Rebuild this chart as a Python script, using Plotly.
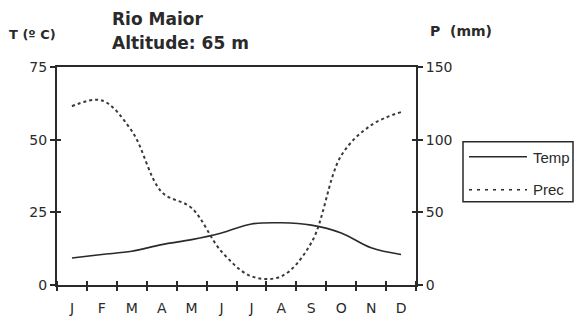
import plotly.graph_objects as go

months = list(range(1, 13))
month_labels = ["J", "F", "M", "A", "M", "J", "J", "A", "S", "O", "N", "D"]
temp = [9.3, 10.5, 11.6, 13.9, 15.6, 17.9, 21.0, 21.4, 20.6, 17.9, 12.8, 10.5]
prec = [123, 127, 106, 64, 53, 23, 6, 6, 29, 89, 110, 119]
t_ticks = [0, 25, 50, 75]
p_ticks = [0, 50, 100, 150]

SANS = "Liberation Sans, Arial, sans-serif"
WIDE = "DejaVu Sans, sans-serif"
INK = "#2a2a2a"

# page body has an 8px margin; lay out in reference pixels then shift
OFF = 8
W, H = 583 - OFF, 319 - OFF
L, T, R, B = 57 - OFF, 67 - OFF, 583 - 416, 319 - 285.5
pw, ph = W - L - R, H - T - B


def px(rx):
    return (rx - OFF - L) / pw


def py(ry):
    return (H - B - (ry - OFF)) / ph


fig = go.Figure()
fig.add_trace(go.Scatter(x=months, y=temp, name="Temp", mode="lines",
                         line=dict(color=INK, width=1.6, shape="spline"), yaxis="y"))
fig.add_trace(go.Scatter(x=months, y=prec, name="Prec", mode="lines",
                         line=dict(color="#3a3a3a", width=2, dash="dot", shape="spline"),
                         yaxis="y2"))

bounds = [m - 0.5 for m in months] + [12.5]
axis_common = dict(showgrid=False, zeroline=False)
fig.update_layout(
    width=W, height=H,
    margin=dict(l=L, r=R, t=T, b=B, autoexpand=False),
    paper_bgcolor="white", plot_bgcolor="white",
    font=dict(family=SANS, color=INK, size=13),
    showlegend=False,
    xaxis=dict(range=[0.5, 12.5], tickvals=months, ticktext=month_labels, ticks="",
               showline=True, linecolor=INK, linewidth=2, mirror=True,
               tickfont=dict(family=WIDE, size=14), ticklabelstandoff=9,
               minor=dict(tickvals=bounds, ticks="outside", ticklen=4, tickcolor=INK,
                          tickwidth=1.5, showgrid=False), **axis_common),
    xaxis2=dict(range=[0.5, 12.5], overlaying="x", anchor="y", side="bottom",
                showticklabels=False, tickvals=[], showline=False,
                minor=dict(tickvals=bounds, ticks="inside", ticklen=4, tickcolor=INK,
                           tickwidth=1.5, showgrid=False), **axis_common),
    yaxis=dict(range=[0, 75], tickvals=t_ticks, ticks="outside", ticklen=5, tickcolor=INK,
               tickwidth=1.5, showline=True, linecolor=INK, linewidth=2,
               tickfont=dict(family=WIDE, size=14), **axis_common),
    yaxis2=dict(range=[0, 150], tickvals=p_ticks, overlaying="y", side="right",
                ticks="outside", ticklen=5, tickcolor=INK, tickwidth=1.5,
                showline=True, linecolor=INK, linewidth=2,
                tickfont=dict(family=WIDE, size=14), **axis_common),
    yaxis3=dict(range=[0, 75], tickvals=t_ticks, overlaying="y", side="left", anchor="x",
                ticks="inside", ticklen=4, tickcolor=INK, tickwidth=1.5,
                showticklabels=False, showline=False, **axis_common),
    yaxis4=dict(range=[0, 150], tickvals=p_ticks, overlaying="y", side="right", anchor="x",
                ticks="inside", ticklen=4, tickcolor=INK, tickwidth=1.5,
                showticklabels=False, showline=False, **axis_common),
)

# empty helper traces so the overlay tick axes are drawn
fig.add_trace(go.Scatter(x=[], y=[], xaxis="x2", yaxis="y3", showlegend=False,
                         hoverinfo="skip"))
fig.add_trace(go.Scatter(x=[], y=[], xaxis="x", yaxis="y4", showlegend=False,
                         hoverinfo="skip"))

anns = [
    ("<b>Rio Maior</b>", 110, 19, 17, WIDE),
    ("<b>Altitude: 65 m</b>", 110, 43, 17, WIDE),
    ("<b>T (º C)</b>", 7, 34, 13, WIDE),
    ("<b>P  (mm)</b>", 428, 31, 14, WIDE),
    ("Temp", 531, 158, 15, SANS),
    ("Prec", 531, 190, 15, SANS),
]
for text, rx, ry, fs, fam in anns:
    fig.add_annotation(text=text, x=px(rx), y=py(ry), xref="paper", yref="paper",
                       xanchor="left", yanchor="middle", showarrow=False,
                       font=dict(size=fs, family=fam, color=INK))

# legend box and samples
fig.add_shape(type="rect", xref="paper", yref="paper", x0=px(463), x1=px(573),
              y0=py(142), y1=py(202), line=dict(color=INK, width=1.5),
              fillcolor="rgba(0,0,0,0)")
fig.add_shape(type="line", xref="paper", yref="paper", x0=px(469), x1=px(527),
              y0=py(157), y1=py(157), line=dict(color=INK, width=1.5))
fig.add_shape(type="line", xref="paper", yref="paper", x0=px(469), x1=px(527),
              y0=py(190), y1=py(190), line=dict(color=INK, width=1.5, dash="3px,5px"))

fig.write_html("out.html")
